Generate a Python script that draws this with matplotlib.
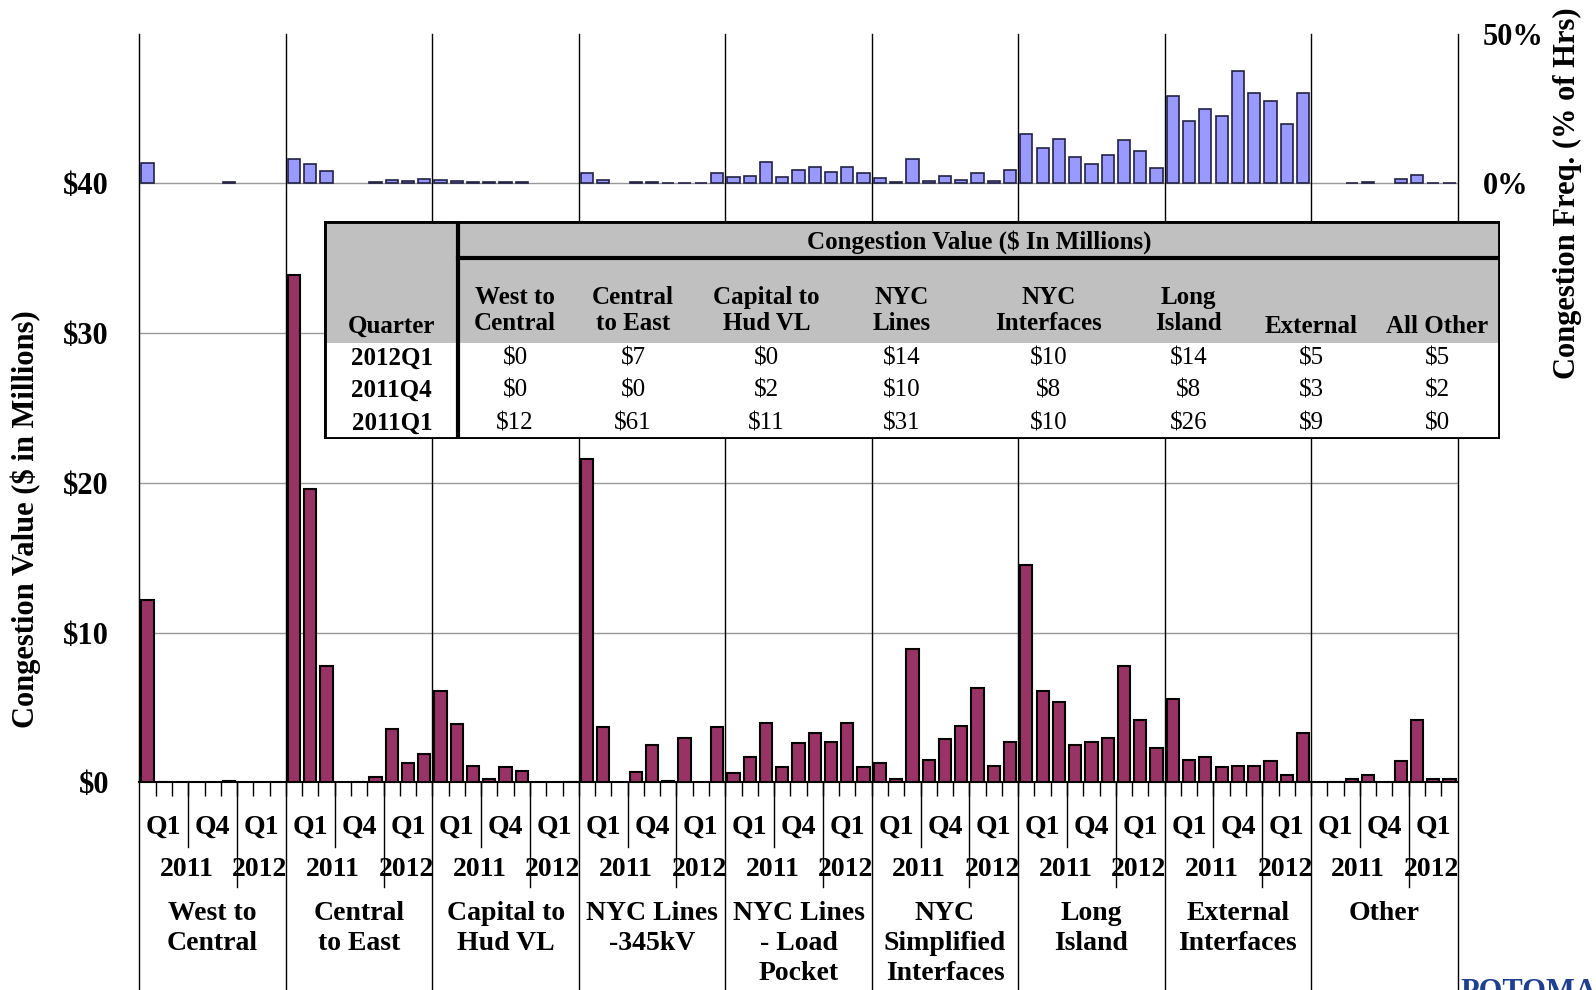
import matplotlib
matplotlib.use('Agg')
import matplotlib.pyplot as plt
from matplotlib.patches import Rectangle

plt.rcParams['font.family'] = ['Liberation Serif', 'DejaVu Serif']
plt.rcParams['font.weight'] = 'bold'

groups = ["West to\nCentral", "Central\nto East", "Capital to\nHud VL", "NYC Lines\n-345kV",
          "NYC Lines\n- Load\nPocket", "NYC\nSimplified\nInterfaces", "Long\nIsland",
          "External\nInterfaces", "Other"]

# monthly congestion value ($M): Jan-Mar 2011, Oct-Dec 2011, Jan-Mar 2012
value = [
    [12.2, 0.05, 0, 0, 0, 0.1, 0, 0, 0],
    [33.9, 19.6, 7.8, 0, 0.05, 0.35, 3.6, 1.3, 1.9],
    [6.1, 3.9, 1.1, 0.2, 1.0, 0.75, 0, 0, 0.05],
    [21.6, 3.7, 0, 0.7, 2.5, 0.1, 3.0, 0, 3.7],
    [0.6, 1.7, 4.0, 1.0, 2.6, 3.3, 2.7, 4.0, 1.0],
    [1.3, 0.2, 8.9, 1.5, 2.9, 3.8, 6.3, 1.1, 2.7],
    [14.5, 6.1, 5.4, 2.5, 2.7, 3.0, 7.8, 4.2, 2.3],
    [5.6, 1.5, 1.7, 1.0, 1.1, 1.1, 1.4, 0.5, 3.3],
    [0, 0.05, 0.25, 0.5, 0, 1.4, 4.2, 0.25, 0.25],
]
# congestion frequency (% of hours)
freq = [
    [6.8, 0, 0, 0, 0, 0.4, 0, 0, 0],
    [8.0, 6.5, 4.0, 0, 0, 0.3, 1.2, 0.9, 1.6],
    [1.0, 0.7, 0.5, 0.3, 0.3, 0.4, 0, 0, 0],
    [3.4, 1.0, 0, 0.4, 0.5, 0.2, 0.2, 0.2, 3.4],
    [2.2, 2.4, 7.0, 2.2, 4.4, 5.4, 3.9, 5.3, 3.6],
    [1.7, 0.6, 8.1, 0.9, 2.3, 1.2, 3.3, 0.8, 4.4],
    [16.4, 11.7, 14.8, 8.7, 6.6, 9.3, 14.6, 10.8, 5.0],
    [29.2, 20.9, 24.9, 22.4, 37.6, 30.1, 27.4, 19.7, 30.3],
    [0, 0, 0.2, 0.3, 0, 1.4, 2.7, 0.2, 0.2],
]

tbl_cols = ["West to\nCentral", "Central\nto East", "Capital to\nHud VL", "NYC\nLines",
            "NYC\nInterfaces", "Long\nIsland", "External", "All Other"]
tbl_rows = ["2012Q1", "2011Q4", "2011Q1"]
tbl_vals = [
    ["$0", "$7", "$0", "$14", "$10", "$14", "$5", "$5"],
    ["$0", "$0", "$2", "$10", "$8", "$8", "$3", "$2"],
    ["$12", "$61", "$11", "$31", "$10", "$26", "$9", "$0"],
]

W, H = 1568.0, 973.0
fig = plt.figure(figsize=(15.96, 9.9), dpi=100)
ax = fig.add_axes([137 / W, 1 - 769 / H, (1432 - 137) / W, (769 - 33) / H])
ax2 = ax.twinx()

vals = [v for g in value for v in g]
frqs = [v for g in freq for v in g]
x = list(range(len(vals)))
xv = [i for i in x if vals[i] > 0]
xf = [i for i in x if frqs[i] > 0]
ax.bar(xv, [vals[i] for i in xv], width=0.75, color='#993366', edgecolor='black', linewidth=1.5, zorder=3)
ax2.bar(xf, [frqs[i] for i in xf], width=0.75, color='#9999FF', edgecolor='#222244', linewidth=1.2, zorder=3)

ax.set_xlim(-0.5, len(vals) - 0.5)
ax.set_ylim(0, 50)
ax2.set_ylim(-200, 50)
ax.set_yticks([0, 10, 20, 30, 40])
ax.set_yticklabels(['$0', '$10', '$20', '$30', '$40'], fontsize=22, fontweight='bold')
ax2.set_yticks([0, 50])
ax2.set_yticklabels(['0%', '50%'], fontsize=22, fontweight='bold')
for y in [10, 20, 30, 40]:
    ax.axhline(y, color='#999999', lw=1, zorder=1)
ax.tick_params(axis='y', length=0, pad=22)
ax2.tick_params(axis='y', length=0, pad=18)
ax.set_xticks([i + 0.5 for i in x[:-1]])
ax.set_xticklabels([])
ax.tick_params(axis='x', length=10, direction='out', width=1)
for sp in ['top', 'right']:
    ax.spines[sp].set_visible(False)
    ax2.spines[sp].set_visible(False)
ax2.spines['left'].set_visible(False)
ax2.spines['bottom'].set_visible(False)
ax.spines['bottom'].set_linewidth(1.5)
ax.spines['left'].set_color('#666666')

tr = ax.get_xaxis_transform()
py = lambda p: (769 - p) / (769 - 33)
for g, name in enumerate(groups):
    s = g * 9
    ax.plot([s - 0.5, s - 0.5], [1, py(H)], color='black', lw=1, transform=tr, clip_on=False, zorder=4)
    ax.plot([s + 2.5, s + 2.5], [0, py(832)], color='black', lw=1, transform=tr, clip_on=False)
    ax.plot([s + 5.5, s + 5.5], [0, py(872)], color='black', lw=1, transform=tr, clip_on=False)
    for off, q in [(1, 'Q1'), (4, 'Q4'), (7, 'Q1')]:
        ax.text(s + off, py(813), q, transform=tr, ha='center', va='center', fontsize=20, fontweight='bold')
    ax.text(s + 2.4, py(855), '2011', transform=tr, ha='center', va='center', fontsize=20, fontweight='bold')
    ax.text(s + 6.9, py(855), '2012', transform=tr, ha='center', va='center', fontsize=20, fontweight='bold')
    ax.text(s + 4, py(886), name, transform=tr, ha='center', va='top', fontsize=20,
            fontweight='bold', linespacing=1.25)
ax.plot([len(vals) - 0.5] * 2, [1, py(H)], color='black', lw=1, transform=tr, clip_on=False)

fig.text(25 / W, 1 - 510 / H, 'Congestion Value ($ in Millions)', rotation=90, ha='center', va='center',
         fontsize=22, fontweight='bold')
fig.text(1540 / W, 1 - 190 / H, 'Congestion Freq. (% of Hrs)', rotation=90, ha='center', va='center',
         fontsize=22, fontweight='bold')
fig.text(1435 / W, 1 - 975 / H, 'POTOMAC', color='#1f3f8f', fontsize=22, fontweight='bold', va='center')

# summary table
tx0, tx1, ty0, ty1 = 318, 1474, 217, 431
tab = fig.add_axes([tx0 / W, 1 - ty1 / H, (tx1 - tx0) / W, (ty1 - ty0) / H])
tab.set_xlim(tx0, tx1)
tab.set_ylim(ty1, ty0)
tab.axis('off')
tab.add_patch(Rectangle((tx0, ty0), tx1 - tx0, ty1 - ty0, facecolor='white', edgecolor='none'))
tab.add_patch(Rectangle((tx0, ty0), tx1 - tx0, 337 - ty0, facecolor='#c0c0c0', edgecolor='none'))
tab.add_patch(Rectangle((tx0, ty0), tx1 - tx0, ty1 - ty0, facecolor='none', edgecolor='black', lw=3.5))
tab.plot([450, 450], [ty0, ty1], color='black', lw=3)
tab.plot([450, tx1], [254, 254], color='black', lw=3)
tab.text(962, 238, 'Congestion Value ($ In Millions)', ha='center', va='center', fontsize=18, fontweight='bold')
tab.text(385, 321, 'Quarter', ha='center', va='center', fontsize=18, fontweight='bold')
col_x = [506, 622, 753, 886, 1030, 1168, 1288, 1412]
for cx, c in zip(col_x, tbl_cols):
    yy = 305 if '\n' in c else 321
    tab.text(cx, yy, c, ha='center', va='center', fontsize=18, fontweight='bold', linespacing=1.2)
for r, (lab, row) in enumerate(zip(tbl_rows, tbl_vals)):
    yy = 352 + r * 32
    tab.text(385, yy, lab, ha='center', va='center', fontsize=18, fontweight='bold')
    for cx, v in zip(col_x, row):
        tab.text(cx, yy, v, ha='center', va='center', fontsize=18, fontweight='normal')

fig.savefig('out.png', dpi=100)
